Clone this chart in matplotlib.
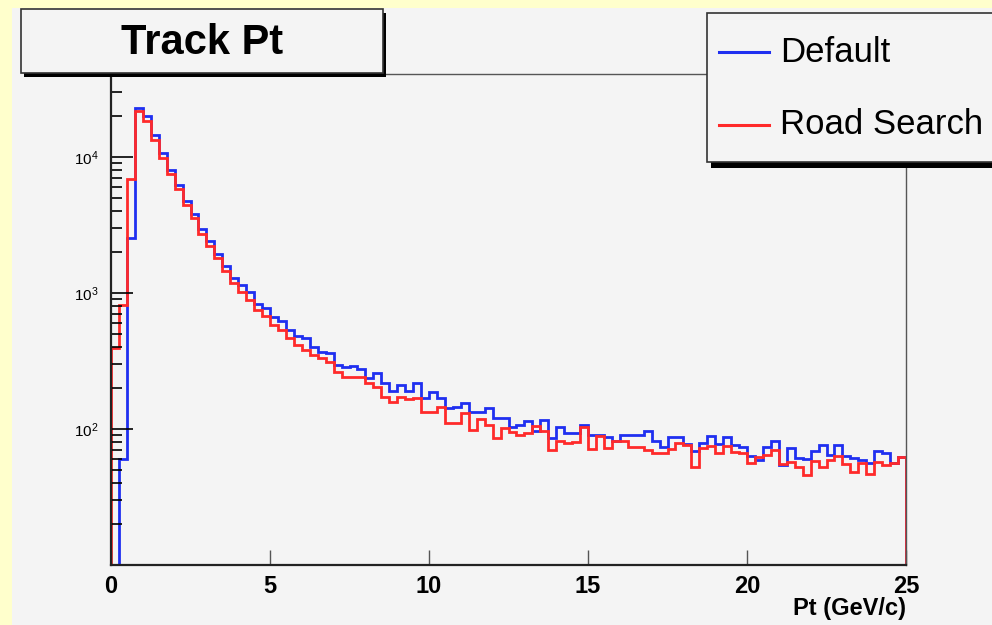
import numpy as np
import matplotlib
matplotlib.use("Agg")
import matplotlib.pyplot as plt
from matplotlib.patches import Rectangle
from matplotlib.lines import Line2D

# Track Pt histogram, 100 bins of 0.25 GeV/c from 0 to 25
pt_edges = np.linspace(0, 25, 101)

default_counts = [
    0, 60, 2540, 23000, 20100, 14500, 10700, 8000, 6220, 4740,
    3810, 2950, 2410, 1935, 1580, 1300, 1145, 1017, 830, 776,
    667, 623, 535, 483, 467, 401, 368, 362, 296, 286,
    290, 276, 237, 258, 218, 190, 211, 190, 218, 169,
    187, 169, 143, 145, 155, 133, 133, 143, 120, 120,
    103, 107, 114, 97, 116, 86, 103, 93, 93, 107,
    90, 90, 87, 82, 90, 90, 90, 97, 82, 74,
    87, 87, 78, 69, 79, 89, 78, 87, 76, 74,
    63, 59, 74, 82, 54, 72, 61, 60, 69, 76,
    64, 76, 63, 61, 59, 56, 69, 67, 56, 62,
]

road_search_counts = [
    395, 815, 6900, 21800, 18400, 13300, 9900, 7500, 5820, 4440,
    3560, 2720, 2220, 1810, 1450, 1190, 1017, 889, 750, 678,
    582, 535, 467, 415, 381, 350, 333, 311, 262, 241,
    241, 241, 218, 204, 172, 158, 172, 166, 169, 133,
    133, 145, 111, 111, 131, 98, 118, 107, 86, 102,
    95, 91, 93, 105, 97, 70, 82, 79, 80, 103,
    71, 89, 72, 82, 82, 74, 74, 70, 67, 67,
    71, 79, 77, 53, 72, 75, 67, 75, 68, 67,
    56, 62, 64, 70, 55, 57, 53, 46, 58, 53,
    59, 63, 55, 48, 56, 47, 57, 54, 56, 62,
]

series_labels = ["Default", "Road Search"]
x_ticks = [0, 5, 10, 15, 20, 25]
y_ticks = [1e2, 1e3, 1e4]
y_tick_labels = [r"$10^{2}$", r"$10^{3}$", r"$10^{4}$"]

W, H = 992, 625
CANVAS = "#f4f4f4"
SANS = ["Liberation Sans", "DejaVu Sans"]
plt.rcParams["mathtext.fontset"] = "custom"
plt.rcParams["mathtext.rm"] = "Liberation Sans"
plt.rcParams["mathtext.it"] = "Liberation Sans"


def fx(px):
    return px / W


def fy(py):
    return 1 - py / H


fig = plt.figure(figsize=(W / 100, H / 100), dpi=100, facecolor="#ffffcc")

# grey canvas inside the yellow border
fig.add_artist(Rectangle((fx(12), 0), 1, fy(8), transform=fig.transFigure,
                         facecolor=CANVAS, edgecolor="none", zorder=0))

ax = fig.add_axes([fx(111), fy(565), fx(795), 491 / H])
ax.set_facecolor(CANVAS)
ax.set_yscale("log", nonpositive="clip")

h_def = ax.stairs(default_counts, pt_edges, color="#1f2ff0", lw=2.0)
h_rs = ax.stairs(road_search_counts, pt_edges, color="#ff2a2a", lw=2.0)

ax.set_xlim(0, 25)
ax.set_ylim(10, 4.1e4)

ax.set_xticks(x_ticks)
ax.set_xticklabels([str(t) for t in x_ticks], fontsize=17, fontweight="bold", family=SANS)
ax.set_yticks(y_ticks)
ax.set_yticklabels(y_tick_labels, fontsize=11)
ax.tick_params(axis="x", direction="in", length=11, width=1, pad=7, color="#555555")
ax.tick_params(axis="y", which="major", direction="in", length=16, width=1.2, pad=9)
ax.tick_params(axis="y", which="minor", direction="in", length=8, width=1.2)
ax.yaxis.set_minor_formatter(matplotlib.ticker.NullFormatter())

for side in ["left", "bottom"]:
    ax.spines[side].set_linewidth(1.6)
    ax.spines[side].set_color("#222222")
for side in ["top", "right"]:
    ax.spines[side].set_linewidth(1.0)
    ax.spines[side].set_color("#555555")

fig.text(fx(906), fy(608), "Pt (GeV/c)", ha="right", va="center", fontsize=17,
         fontweight="bold", family=SANS)

# title box with shadow
fig.add_artist(Rectangle((fx(24), fy(77)), fx(362), 64 / H, transform=fig.transFigure,
                         facecolor="black", edgecolor="none", zorder=5))
fig.add_artist(Rectangle((fx(21), fy(73)), fx(362), 64 / H, transform=fig.transFigure,
                         facecolor=CANVAS, edgecolor="#333333", lw=1.2, zorder=6))
fig.text(fx(202), fy(43), "Track Pt", ha="center", va="center", fontsize=30,
         fontweight="bold", family=SANS, zorder=7)

# legend box with shadow
fig.add_artist(Rectangle((fx(711), fy(168)), fx(300), 155 / H, transform=fig.transFigure,
                         facecolor="black", edgecolor="none", zorder=5))
fig.add_artist(Rectangle((fx(707), fy(162)), fx(300), 149 / H, transform=fig.transFigure,
                         facecolor=CANVAS, edgecolor="#333333", lw=1.2, zorder=6))
for handle, label, py in zip([h_def, h_rs], series_labels, [52, 125]):
    fig.add_artist(Line2D([fx(719), fx(769)], [fy(py), fy(py)], transform=fig.transFigure,
                          color=handle.get_edgecolor(), lw=2.2, zorder=8))
    fig.text(fx(780), fy(py), label, ha="left", va="center", fontsize=25,
             family=SANS, zorder=8)

fig.savefig("out.png", dpi=100, facecolor=fig.get_facecolor())
